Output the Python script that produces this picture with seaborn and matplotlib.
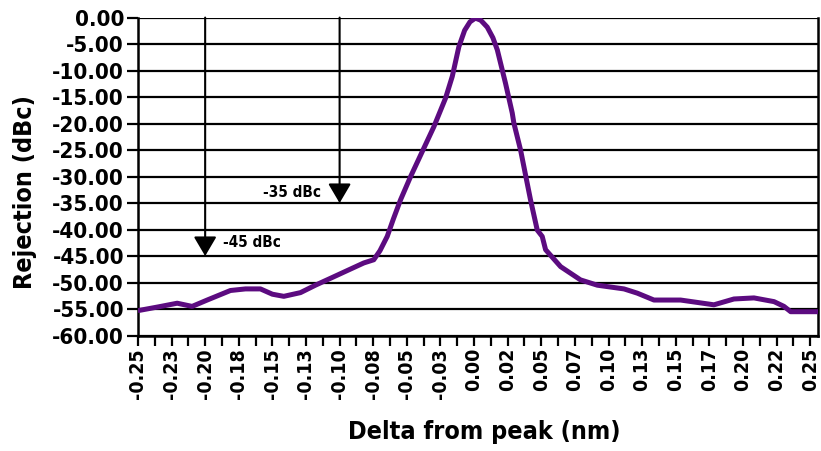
import numpy as np
import pandas as pd
import matplotlib
matplotlib.use('Agg')
import matplotlib.pyplot as plt
import seaborn as sns

# curve (nm offset, dBc)
delta_nm = [-0.2500, -0.2350, -0.2208, -0.2097, -0.1985, -0.1812, -0.1700, -0.1589, -0.1500,
            -0.1415, -0.1291, -0.1180, -0.1068, -0.0940, -0.0820, -0.0746, -0.0700, -0.0646,
            -0.0600, -0.0547, -0.0472, -0.0380, -0.0299, -0.0212, -0.0162, -0.0113, -0.0070,
            -0.0030, 0.0010, 0.0050, 0.0098, 0.0140, 0.0173, 0.0234, 0.0284, 0.0296, 0.0346,
            0.0420, 0.0470, 0.0507, 0.0532, 0.0644, 0.0792, 0.0917, 0.1115, 0.1214, 0.1338,
            0.1536, 0.1784, 0.1933, 0.2082, 0.2231, 0.2305, 0.2355, 0.2450, 0.2563]
rejection = [-55.3, -54.6, -53.9, -54.5, -53.3, -51.5, -51.2, -51.2, -52.2,
             -52.6, -51.9, -50.5, -49.2, -47.7, -46.3, -45.7, -44.0, -41.3,
             -38.0, -34.4, -30.0, -25.0, -20.6, -15.2, -11.1, -5.5, -2.4,
             -0.8, -0.1, -0.5, -1.8, -3.8, -6.1, -12.4, -18.0, -19.9, -25.0,
             -34.4, -40.1, -41.3, -43.8, -47.0, -49.5, -50.5, -51.2, -52.0, -53.3,
             -53.3, -54.2, -53.1, -52.9, -53.6, -54.5, -55.5, -55.5, -55.5]

x_ticks = np.arange(-0.25, 0.2501, 0.025)
x_labels = ['-0.25', '-0.23', '-0.20', '-0.18', '-0.15', '-0.13', '-0.10', '-0.08', '-0.05', '-0.03',
            '0.00', '0.02', '0.05', '0.07', '0.10', '0.13', '0.15', '0.17', '0.20', '0.22', '0.25']
y_ticks = np.arange(-60, 0.1, 5)

markers_x = [-0.20, -0.10]
markers_y = [-45, -35]
marker_text = ['-45 dBc', '-35 dBc']

df = pd.DataFrame({'delta': delta_nm, 'rej': rejection})

sns.set_style('white')
plt.rcParams['font.family'] = ['DejaVu Sans']
plt.rcParams['font.stretch'] = 'condensed'
plt.rcParams['font.weight'] = 'bold'
plt.rcParams['text.color'] = 'black'
plt.rcParams['axes.labelcolor'] = 'black'
plt.rcParams['xtick.color'] = 'black'
plt.rcParams['ytick.color'] = 'black'

fig = plt.figure(figsize=(8.21, 4.51), dpi=100)
ax = fig.add_axes([0.168, 0.256, 0.828, 0.705])

for y in y_ticks:
    ax.axhline(y, color='black', lw=1.6, zorder=1)

sns.lineplot(data=df, x='delta', y='rej', ax=ax, color='#5c0b80', lw=3.6, sort=False,
             solid_joinstyle='round', solid_capstyle='butt', zorder=3)

for mx, my, txt in zip(markers_x, markers_y, marker_text):
    ax.annotate('', xy=(mx, my), xytext=(mx, 0),
                arrowprops=dict(arrowstyle='-|>,head_length=0.85,head_width=0.5', color='black',
                                lw=1.5, mutation_scale=14, shrinkA=0, shrinkB=0), zorder=2)
ax.text(-0.1864, -42.5, marker_text[0], fontsize=11, fontweight='bold', va='center', ha='left')
ax.text(-0.1573, -33.0, marker_text[1], fontsize=11, fontweight='bold', va='center', ha='left')

ax.set_xlim(-0.25, 0.2556)
ax.set_ylim(-60, 0)
ax.set_xticks(x_ticks)
ax.set_xticklabels(x_labels, rotation=90, fontsize=14, fontweight='bold')
ax.set_xticks(np.arange(-0.2375, 0.25, 0.025), minor=True)
ax.set_yticks(y_ticks)
ax.set_yticklabels(['%.2f' % v for v in y_ticks], fontsize=16, fontweight='bold')
ax.tick_params(axis='both', which='both', direction='out', length=8, width=1.6, color='black',
               bottom=True, left=True, pad=2)
ax.tick_params(axis='x', which='both', length=7)

for side in ['left', 'right', 'bottom']:
    ax.spines[side].set_color('black')
    ax.spines[side].set_linewidth(1.8)
ax.spines['top'].set_visible(False)

ax.set_xlabel('Delta from peak (nm)', fontsize=18, fontweight='bold', va='center', ha='center')
ax.set_ylabel('Rejection (dBc)', fontsize=18, fontweight='bold', va='center', ha='center')
ax.xaxis.set_label_coords(0.51, -0.304)
ax.yaxis.set_label_coords(-0.166, 0.45)

plt.savefig('out.png', dpi=100)
